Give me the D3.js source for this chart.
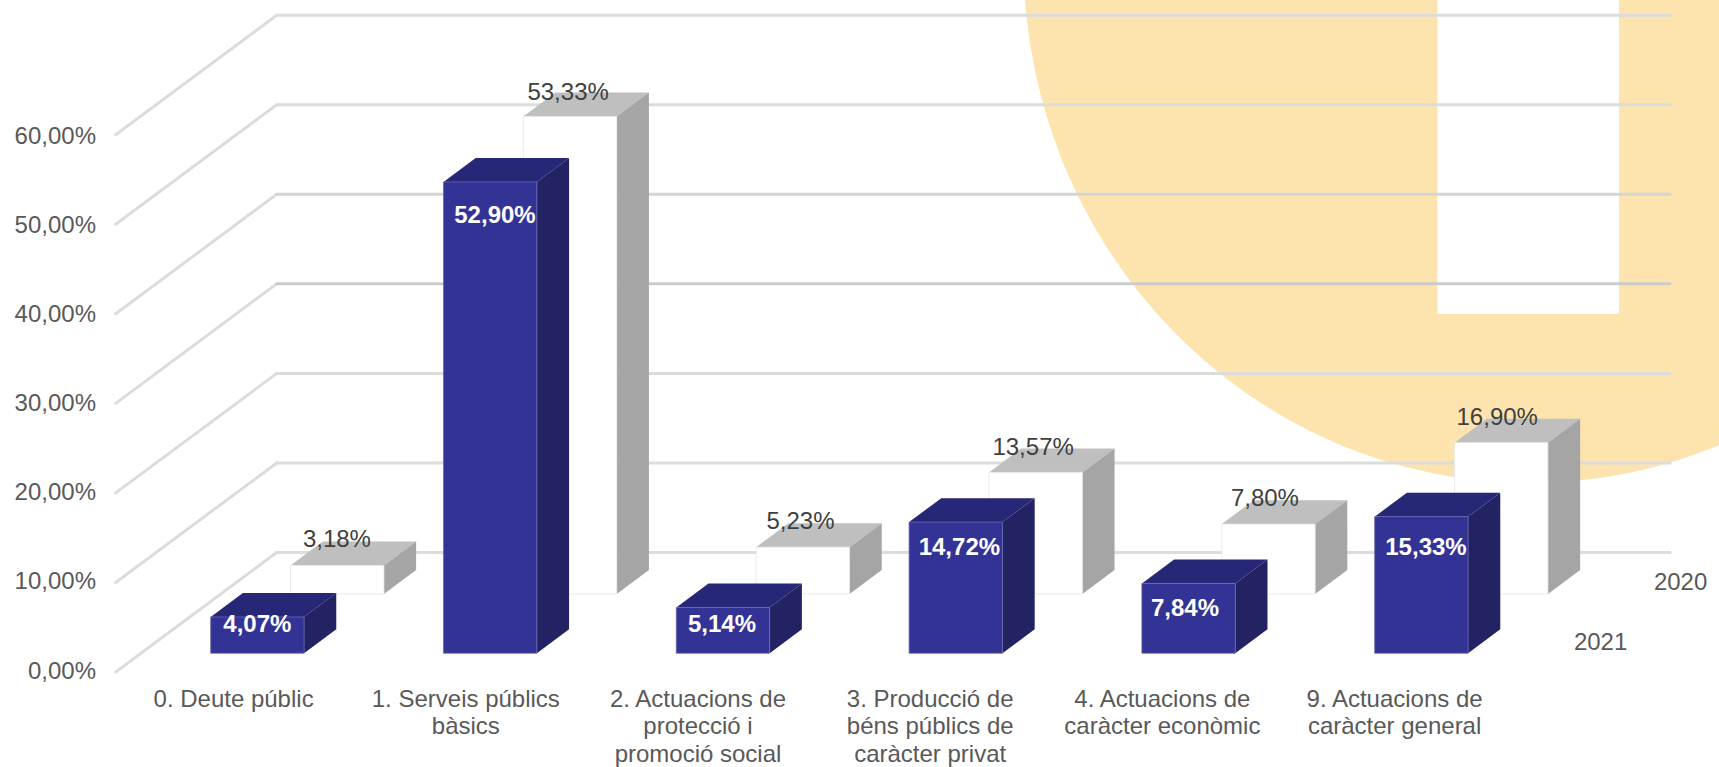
<!DOCTYPE html>
<html>
<head>
<meta charset="utf-8">
<script src="https://cdn.jsdelivr.net/npm/d3@7/dist/d3.min.js"></script>
<style>
html,body{margin:0;padding:0;background:#fff;overflow:hidden}
svg{display:block}
text{font-family:"Liberation Sans",Arial,sans-serif}
</style>
</head>
<body>
<svg id="chart" width="1719" height="767"></svg>
<script>
// ---- data ----
const categories = ["0. Deute públic","1. Serveis públics|bàsics","2. Actuacions de|protecció i|promoció social","3. Producció de|béns públics de|caràcter privat","4. Actuacions de|caràcter econòmic","9. Actuacions de|caràcter general"];
const seriesNames = ["2020","2021"];
const values2020 = [3.18,53.33,5.23,13.57,7.80,16.90];
const values2021 = [4.07,52.90,5.14,14.72,7.84,15.33];
const yTicks = [0,10,20,30,40,50,60];

// ---- label nudges (layout only) ----
const nudge2020 = [[-0.3,-18.8],[-1.9,-16.1],[-2.3,-18.2],[-2.5,-17.5],[-3.5,-18.2],[-4,-17.7]];
const nudge2021 = [[0,14.9],[4.8,43.1],[-1,24.5],[3.6,33.6],[-3.6,33.4],[4.6,39.1]];
const gridColors = {0:"#dcdcdc",10:"#dcdcdc",20:"#dcdcdc",30:"#cbcbcb",40:"#d4d4d4",50:"#dcdcdc",60:"#dcdcdc"};

const FONT = 24;
const svg = d3.select("#chart");

// ---- scales and 3D projection ----
const y = d3.scaleLinear().domain([0,60]).range([672,134.7]);
const yTickLabels = d3.scaleLinear().domain([0,60]).range([671,136.3]);
const x = d3.scaleBand().domain(categories).range([115.7,115.7+1396.8]).paddingInner(0.5988).paddingOuter(0.2994);
const xLabels = d3.scalePoint().domain(categories).range([233.6,233.6+5*232.2]);
const depth = d3.scaleOrdinal().domain(seriesNames).range([0.653,0.157]);
const heightFactor = d3.scaleOrdinal().domain(seriesNames).range([1,0.995]);
const DX = 161, DY = 119.5, BAR_DEPTH = 0.2, GRID_RIGHT = 1670;
const project = (px, v, z) => [px + DX*z, y(v) - DY*z];
const path = d3.line();
const poly = pts => path(pts) + "Z";

// ---- background ----
svg.append("ellipse").attr("cx",1530).attr("cy",-40).attr("rx",506.5).attr("ry",523).attr("fill","#fde4ae");
svg.append("rect").attr("x",1437.5).attr("y",-1).attr("width",181.5).attr("height",315).attr("fill","#fff");

// ---- walls ----
const grid = svg.append("g").attr("fill","none").attr("stroke-width",3).attr("stroke-linejoin","round").attr("stroke-linecap","round");
yTicks.forEach(t=>{
  const a = project(x.range()[0],t,0), b = project(x.range()[0],t,1);
  grid.append("path").attr("d",path([a,b])).attr("stroke","#dcdcdc");
  grid.append("path").attr("d",path([b,[GRID_RIGHT,b[1]]])).attr("stroke",gridColors[t]);
});

// ---- axis ----
const locale = d3.formatLocale({decimal:",",thousands:".",grouping:[3],currency:["","€"]});
const fmtTick = v => locale.format(".2f")(v)+"%";
const axis = d3.axisLeft(yTickLabels).tickValues(yTicks).tickSize(0).tickPadding(0).tickFormat(fmtTick);
const axisG = svg.append("g").attr("transform","translate(96,0)").call(axis);
axisG.select(".domain").remove();
axisG.selectAll("text").attr("font-size",FONT).attr("fill","#595959").attr("dy",7);

// ---- bars ----
function drawSeries(name, values, cols, strokeCol){
  const z0 = depth(name), z1 = z0 + BAR_DEPTH, k = heightFactor(name);
  const g = svg.append("g");
  categories.forEach((c,i)=>{
    const l = x(c), r = l + x.bandwidth(), v = values[i]*k;
    g.append("path").attr("d",poly([project(l,v,z0),project(r,v,z0),project(r,v,z1),project(l,v,z1)])).attr("fill",cols.top);
    g.append("path").attr("d",poly([project(r,0,z0),project(r,v,z0),project(r,v,z1),project(r,0,z1)])).attr("fill",cols.side);
    g.append("path").attr("d",poly([project(l,0,z0),project(r,0,z0),project(r,v,z0),project(l,v,z0)]))
      .attr("fill",cols.front).attr("stroke",strokeCol).attr("stroke-width",0.8);
  });
}
drawSeries("2020",values2020,{top:"#bfbfbf",side:"#a5a5a5",front:"#ffffff"},"#e6e6e6");
drawSeries("2021",values2021,{top:"#272778",side:"#232364",front:"#333396"},"#6a6ab0");

// ---- data labels ----
const fmtLabel = v => locale.format(".2f")(v)+"%";
function drawLabels(name, values, nudge, colour, weight){
  const z0 = depth(name);
  categories.forEach((c,i)=>{
    const p = project(x(c)+x.bandwidth()/2, values[i], z0);
    svg.append("text").attr("x",p[0]+nudge[i][0]).attr("y",p[1]+nudge[i][1])
      .attr("text-anchor","middle").attr("font-size",FONT).attr("font-weight",weight).attr("fill",colour)
      .text(fmtLabel(values[i]));
  });
}
drawLabels("2020",values2020,nudge2020,"#404040","normal");
drawLabels("2021",values2021,nudge2021,"#ffffff","bold");

// ---- category labels ----
categories.forEach(c=>{
  const t = svg.append("text").attr("text-anchor","middle").attr("font-size",FONT).attr("fill","#595959");
  c.split("|").forEach((line,j)=>{
    t.append("tspan").attr("x",xLabels(c)).attr("y",706.7+j*27.5).text(line);
  });
});

// ---- series labels on depth axis ----
[["2020",1680.6,589.5],["2021",1600.6,649.7]].forEach(([s,lx,ly])=>{
  svg.append("text").attr("x",lx).attr("y",ly).attr("text-anchor","middle").attr("font-size",FONT).attr("fill","#595959").text(s);
});
</script>
</body>
</html>
